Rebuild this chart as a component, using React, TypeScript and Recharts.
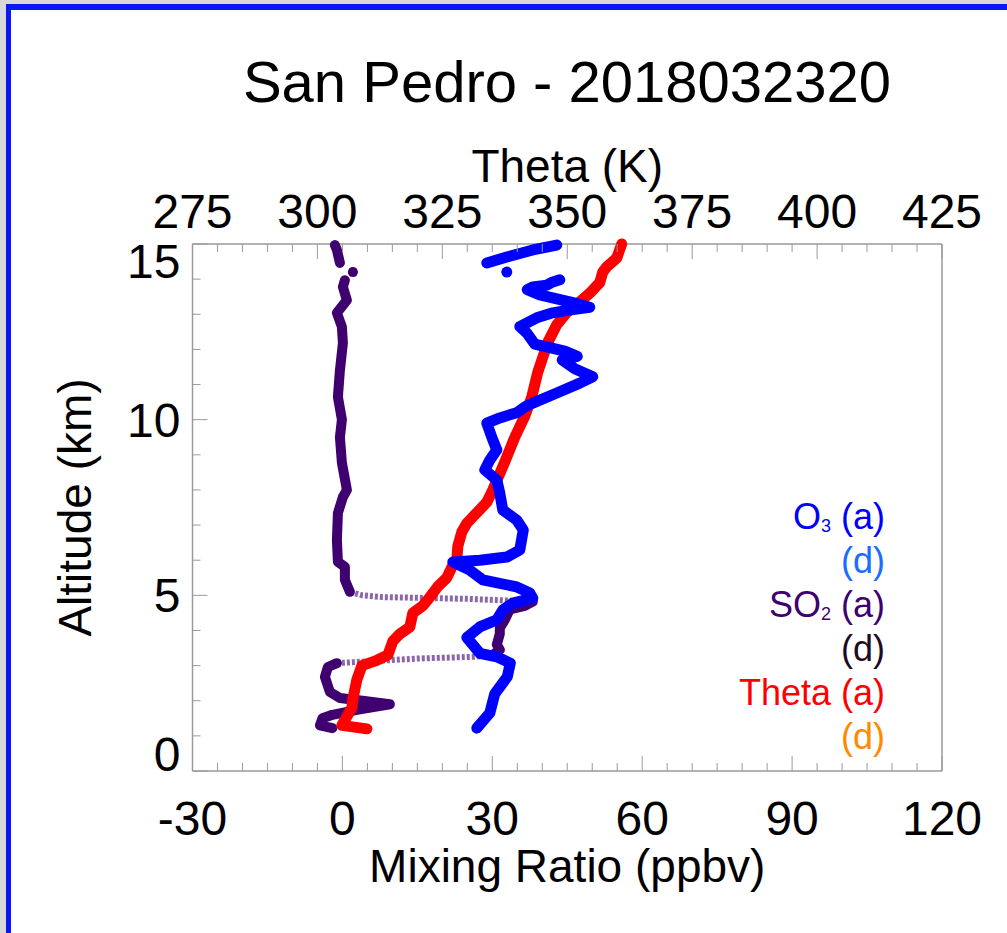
import React from "react";
import { Label, Scatter, ScatterChart, XAxis, YAxis } from "recharts";

const font = '"Liberation Sans", Arial, Helvetica, sans-serif';
const AXIS = "#9a9a9a";
const FRAME = "#0a18f5";
const BLUE = "#0000ff";
const PURPLE = "#3f0070";
const RED = "#ff0000";

// plot box in page pixels
const PL = 192.5;
const PR = 942;
const PT = 244;
const PB = 771;

const TITLE = "San Pedro - 2018032320";
const MR_LABELS = [-30, 0, 30, 60, 90, 120];
const THETA_LABELS = [275, 300, 325, 350, 375, 400, 425];
const ALT_LABELS = [0, 5, 10, 15];

// O3 ascent, km / ppbv (null = gap in the record)
const o3Alt = [
  1.22, 1.65, 2.2, 2.68, 3.07, 3.25, 3.35, 3.8, 4.1, 4.3, 4.58, 4.78, 4.92, 5.07, 5.24, 5.44,
  5.72, 5.95, 6.0, 6.09, 6.29, 6.86, 7.14, 7.43, 7.91, 8.28, 8.57, 8.85, 9.14, 9.5, 9.9, 10.05,
  10.2, 10.36, 10.47, 10.76, 11.04, 11.22, 11.45, 11.7, 11.8, 11.95, 12.15, 12.45, 12.65, 12.9,
  13.04, 13.12, 13.2, 13.3, 13.35, 13.55, 13.7, 13.78, 13.83, 13.92, 13.98, null, 14.2, null,
  14.46, 14.63, 14.83, 14.97,
];
const o3Ppbv = [
  26.9, 29.5, 30.5, 33.0, 33.6, 30.9, 27.5, 24.9, 27.5, 30.9, 32.1, 34.1, 38.1, 37.5, 34.9, 28.1,
  25.5, 22.1, 27.5, 32.9, 35.5, 36.2, 34.9, 32.1, 31.5, 30.9, 28.5, 29.5, 30.9, 29.9, 28.9, 31.5,
  34.9, 36.5, 38.1, 42.9, 47.5, 50.1, 46.5, 44.0, 47.0, 44.5, 38.5, 37.0, 35.5, 38.9,
  42.1, 45.5, 49.5, 47.0, 45.5, 39.5, 37.0, 38.1, 40.9, 42.1, 43.5, null, 32.9, null,
  28.9, 32.9, 38.1, 42.9,
];

// SO2 ascent, km / ppbv
const so2Alt = [
  1.22, 1.3, 1.5, 1.6, 1.74, 1.9, 2.0, 2.08, 2.25, 2.68, 2.96, 3.07, null,
  3.07, 3.2, 3.25, 3.3, null,
  3.3, 3.45, 3.6, 3.9, 4.07, 4.3, 4.45, 4.6, 4.7, 4.82, null,
  4.82, 4.9, 4.95, 5.0, 5.1, null,
  5.1, 5.44, 5.81, 5.95, 6.58, 7.34, 7.8, 8.0, 8.77, 9.5, 10.0, 10.65, 11.4, 12.18, 12.64, 13.04,
  13.4, 13.78, 13.97, null, 14.2, null, 14.46, 14.83, 14.97,
];
const so2Ppbv = [
  -2.0, -4.5, -4.0, -2.0, 2.9, 9.5, 4.0, -0.5, -2.5, -3.5, -2.9, -1.1, null,
  -1.1, 15.0, 26.1, 30.1, null,
  30.1, 31.5, 30.9, 31.5, 31.5, 32.5, 33.0, 33.5, 36.5, 38.1, null,
  38.1, 25.0, 8.0, 4.0, 1.5, null,
  1.5, 0.5, 0.5, -0.9, -1.1, -0.9, 0.1, 0.9, -0.1, -0.5, -0.1, -0.9, -0.5, 0.1, -0.1, -1.1,
  0.9, 0.1, 0.5, null, 2.1, null, -0.5, -1.1, -1.5,
];
// quick jumps in the record show as sparse markers
const so2Sparse = [false, true, false, true, false, false, false];

// potential temperature, km / K
const thAlt = [
  1.2, 1.3, 1.8, 2.05, 2.6, 3.0, 3.15, 3.3, 3.7, 3.9, 4.1, 4.5, 4.7, 4.95, 5.25, 5.5, 5.8, 6.0,
  6.4, 6.8, 7.05, 7.35, 7.65, 8.0, 8.8, 9.5, 10.1, 10.65, 11.35, 12.2, 12.7, 13.05, 13.35, 13.6,
  13.9, 14.2, 14.35, 14.6, 15.0,
];
const thK = [
  309.9, 304.9, 306.9, 307.1, 307.9, 308.9, 311.9, 314.1, 315.1, 316.5, 318.5, 319.1, 321.1, 322.5,
  324.1, 325.9, 326.9, 327.9, 328.1, 328.9, 329.9, 331.9, 333.9, 335.1, 337.5, 339.5, 341.5, 342.9,
  344.1, 346.1, 347.9, 349.9, 352.5, 354.5, 356.5, 357.1, 357.9, 359.9, 360.9,
];

type Pt = Record<string, number>;

function segments(alt: (number | null)[], val: (number | null)[], key: string): Pt[][] {
  const out: Pt[][] = [];
  let cur: Pt[] = [];
  alt.forEach((a, i) => {
    if (a === null || val[i] === null) {
      out.push(cur);
      cur = [];
      return;
    }
    cur.push({ alt: a, [key]: val[i] as number });
  });
  out.push(cur);
  return out;
}

const steps = (a: number, b: number, s: number) =>
  Array.from({ length: Math.round((b - a) / s) + 1 }, (_, i) => a + i * s);

const o3Segs = segments(o3Alt, o3Ppbv, "mr");
const so2Segs = segments(so2Alt, so2Ppbv, "mr");
const thData = thAlt.map((a, i) => ({ alt: a, th: thK[i] }));

const tickText = { fontFamily: font, fontSize: 48, fill: "#000" };
const titleText = { fontFamily: font, fontSize: 46, fill: "#000" };

function BottomTick({ x, payload }: any) {
  const major = MR_LABELS.includes(payload.value);
  return (
    <g>
      <line x1={x} x2={x} y1={PB} y2={PB - (major ? 15 : 8)} stroke={AXIS} />
      {major && (
        <text x={x} y={PB + 64} textAnchor="middle" style={tickText}>
          {payload.value}
        </text>
      )}
    </g>
  );
}

function TopTick({ x, payload }: any) {
  const major = THETA_LABELS.includes(payload.value);
  return (
    <g>
      <line x1={x} x2={x} y1={PT} y2={PT + (major ? 15 : 8)} stroke={AXIS} />
      {major && (
        <text x={x} y={PT - 16} textAnchor="middle" style={tickText}>
          {payload.value}
        </text>
      )}
    </g>
  );
}

function LeftTick({ y, payload }: any) {
  const major = ALT_LABELS.includes(payload.value);
  const cy = Math.min(Math.max(y, PT + 17), PB - 17);
  return (
    <g>
      <line x1={PL} x2={PL + (major ? 15 : 8)} y1={y} y2={y} stroke={AXIS} />
      {major && (
        <text x={PL - 12} y={cy + 17} textAnchor="end" style={tickText}>
          {payload.value}
        </text>
      )}
    </g>
  );
}

function RightTick({ y, payload }: any) {
  const major = ALT_LABELS.includes(payload.value);
  return <line x1={PR} x2={PR - (major ? 15 : 8)} y1={y} y2={y} stroke={AXIS} />;
}

const noShape = () => <g />;
const starShape = (c: string) => (p: any) => {
  const r = 5;
  return (
    <g stroke={c} strokeWidth={1.5}>
      <line x1={p.cx - r} x2={p.cx + r} y1={p.cy} y2={p.cy} />
      <line x1={p.cx - r * 0.6} x2={p.cx + r * 0.6} y1={p.cy - r * 0.8} y2={p.cy + r * 0.8} />
      <line x1={p.cx - r * 0.6} x2={p.cx + r * 0.6} y1={p.cy + r * 0.8} y2={p.cy - r * 0.8} />
    </g>
  );
};

const thick = (c: string, w: number) => ({
  stroke: c,
  strokeWidth: w,
  strokeLinejoin: "round",
  strokeLinecap: "round",
});
const sparse = (c: string) => ({
  stroke: c,
  strokeWidth: 6,
  strokeDasharray: "3 2",
  strokeOpacity: 0.6,
});

const LEGEND = [
  { name: "O", sub: "3", tag: "(a)", color: BLUE },
  { name: "", sub: "", tag: "(d)", color: "#1a6dff" },
  { name: "SO", sub: "2", tag: "(a)", color: PURPLE },
  { name: "", sub: "", tag: "(d)", color: "#1e0a24" },
  { name: "Theta", sub: "", tag: "(a)", color: RED },
  { name: "", sub: "", tag: "(d)", color: "#ff8a00" },
];

export default function App() {
  return (
    <div
      style={{
        position: "absolute",
        left: 0,
        top: 0,
        width: 1007,
        height: 933,
        overflow: "hidden",
        background: "#d8d8d8",
        fontFamily: font,
      }}
    >
      <div
        style={{
          position: "absolute",
          left: 6,
          top: 4,
          width: 1100,
          height: 1000,
          background: "#fff",
          borderLeft: `5px solid ${FRAME}`,
          borderTop: `6px solid ${FRAME}`,
        }}
      />
      <div
        style={{
          position: "absolute",
          left: 0,
          top: 53,
          width: 1134,
          textAlign: "center",
          fontSize: 58,
          lineHeight: 1,
          color: "#000",
        }}
      >
        {TITLE}
      </div>
      <div style={{ position: "absolute", left: 0, top: 0 }}>
        <ScatterChart
          width={1007}
          height={933}
          margin={{ top: PT - 60, bottom: 933 - PB - 60, left: PL - 80, right: 1007 - PR - 10 }}
        >
          <XAxis
            xAxisId="mr"
            dataKey="mr"
            type="number"
            orientation="bottom"
            domain={[-30, 120]}
            ticks={steps(-30, 120, 5)}
            interval={0}
            height={60}
            tickSize={0}
            tickLine={false}
            axisLine={{ stroke: AXIS, strokeWidth: 1.5 }}
            tick={(p: any) => <BottomTick {...p} />}
          >
            <Label value="Mixing Ratio (ppbv)" position="bottom" offset={18} style={titleText} />
          </XAxis>
          <XAxis
            xAxisId="th"
            dataKey="th"
            type="number"
            orientation="top"
            domain={[275, 425]}
            ticks={steps(275, 425, 5)}
            interval={0}
            height={60}
            tickSize={0}
            tickLine={false}
            axisLine={{ stroke: AXIS, strokeWidth: 1.5 }}
            tick={(p: any) => <TopTick {...p} />}
          >
            <Label value="Theta (K)" position="top" offset={2} style={titleText} />
          </XAxis>
          <YAxis
            yAxisId="alt"
            dataKey="alt"
            type="number"
            domain={[0, 15]}
            ticks={steps(0, 15, 1)}
            interval={0}
            width={80}
            tickSize={0}
            tickLine={false}
            axisLine={{ stroke: AXIS, strokeWidth: 1.5 }}
            tick={(p: any) => <LeftTick {...p} />}
          >
            <Label
              value="Altitude (km)"
              angle={-90}
              position="insideLeft"
              offset={-38}
              style={{ ...titleText, textAnchor: "middle" }}
            />
          </YAxis>
          <YAxis
            yAxisId="altR"
            orientation="right"
            type="number"
            domain={[0, 15]}
            ticks={steps(0, 15, 1)}
            interval={0}
            width={10}
            tickSize={0}
            tickLine={false}
            axisLine={{ stroke: AXIS, strokeWidth: 1.5 }}
            tick={(p: any) => <RightTick {...p} />}
          />
          {so2Segs.map((seg, i) => (
            <Scatter
              key={`so2-${i}`}
              data={seg}
              xAxisId="mr"
              yAxisId="alt"
              fill={PURPLE}
              line={so2Sparse[i] ? sparse(PURPLE) : thick(PURPLE, 10)}
              shape={seg.length === 1 ? starShape(PURPLE) : noShape}
              isAnimationActive={false}
            />
          ))}
          <Scatter
            data={thData}
            xAxisId="th"
            yAxisId="alt"
            fill={RED}
            line={thick(RED, 11)}
            shape={noShape}
            isAnimationActive={false}
          />
          {o3Segs.map((seg, i) => (
            <Scatter
              key={`o3-${i}`}
              data={seg}
              xAxisId="mr"
              yAxisId="alt"
              fill={BLUE}
              line={thick(BLUE, 11)}
              shape={seg.length === 1 ? starShape(BLUE) : noShape}
              isAnimationActive={false}
            />
          ))}
        </ScatterChart>
      </div>
      <div
        style={{
          position: "absolute",
          right: 1007 - 885,
          top: 495,
          textAlign: "right",
          fontSize: 36,
          whiteSpace: "nowrap",
        }}
      >
        {LEGEND.map((l, i) => (
          <div key={i} style={{ color: l.color, height: 44, lineHeight: "44px" }}>
            {l.name}
            {l.sub && (
              <span style={{ fontSize: 18, lineHeight: 0, verticalAlign: "-3px" }}>{l.sub}</span>
            )}
            {l.name && " "}
            {l.tag}
          </div>
        ))}
      </div>
    </div>
  );
}
